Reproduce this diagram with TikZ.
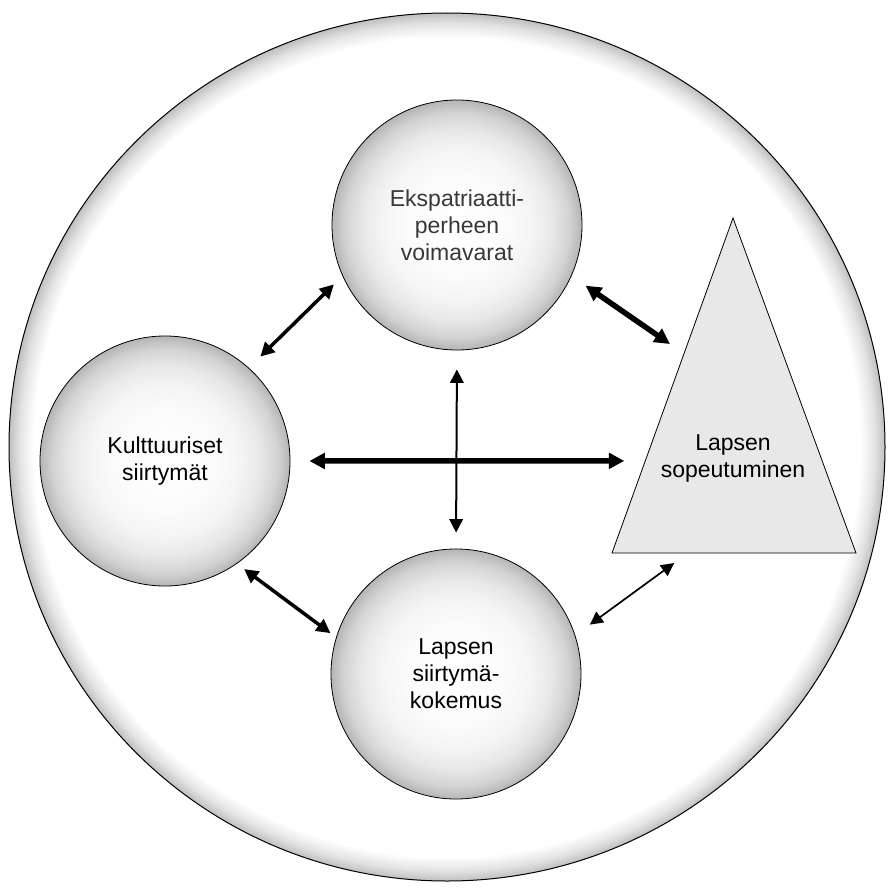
\documentclass[tikz,border=0pt]{standalone}
\usepackage{fontspec}
\setmainfont{Liberation Sans}
\usepackage{tikz}
\usetikzlibrary{positioning,calc,arrows.meta}

\pgfdeclareradialshading{spheregrey}{\pgfpoint{0bp}{0bp}}{color(0bp)=(white); color(10bp)=(gray!3); color(15bp)=(gray!8); color(19bp)=(gray!18); color(22.5bp)=(gray!35); color(25bp)=(gray!58); color(50bp)=(gray!58)}
\pgfdeclareradialshading{rimgrey}{\pgfpoint{0bp}{0bp}}{color(0bp)=(white); color(23.6bp)=(white); color(24.4bp)=(gray!22); color(25bp)=(gray!50); color(50bp)=(gray!50)}

\begin{document}
\begin{tikzpicture}[x=1pt, y=-1pt,
    sphere/.style={circle, draw, line width=0.8pt, minimum size=250pt, inner sep=0pt,
        shade, shading=spheregrey, align=center, font=\fontsize{23}{27}\selectfont},
    link/.style={{Triangle[length=#1,width=#1]}-{Triangle[length=#1,width=#1]}},
    hair/.style={link=13pt, line width=1.7pt},
    fine/.style={link=13.5pt, line width=2pt},
    medium/.style={link=14pt, line width=3.5pt},
    heavy/.style={link=15.5pt, line width=5.5pt}]
    \useasboundingbox (0,0) rectangle (887,891);

    % Outer ring
    \draw[line width=1pt, shade, shading=rimgrey] (447,447) ellipse [x radius=438, y radius=434];

    % Circles
    \node[sphere, text=black!78] (E) at (457,225) {Ekspatriaatti-\\perheen\\voimavarat};
    \node[sphere] (K) at (165,461) {Kulttuuriset\\siirtymät};
    \node[sphere] (S) at (456,674) {Lapsen\\siirtymä-\\kokemus};

    % Triangle
    \coordinate (TA) at (733,218);
    \coordinate (TL) at (612,553);
    \coordinate (TR) at (856,553);
    \draw[line width=0.8pt, fill=gray!18] (TA) -- (TL) -- (TR) -- cycle;
    \node[align=center, font=\fontsize{23}{27}\selectfont] (P) at (733,458) {Lapsen\\sopeutuminen};

    % Arrows
    \coordinate (P1) at ($(TA)!0.405!(TL)$);
    \coordinate (P2) at ($(TA)!0.725!(TL)$);
    \coordinate (P3) at ($(TL)!0.311!(TR)$);
    \draw[medium, shorten <=16pt, shorten >=12pt] (K.48) -- (E.204);
    \draw[heavy, shorten <=17pt, shorten >=17pt] (E.336) -- (P1);
    \draw[heavy, shorten <=19pt, shorten >=21pt] (K.east) -- (P2);
    \draw[fine, shorten <=19pt, shorten >=16pt] (E.south) -- (S.north);
    \draw[medium, shorten <=9pt, shorten >=7pt] (K.305.6) -- (S.163);
    \draw[hair, shorten <=18pt, shorten >=17pt] (S.18) -- (P3);
\end{tikzpicture}
\end{document}
